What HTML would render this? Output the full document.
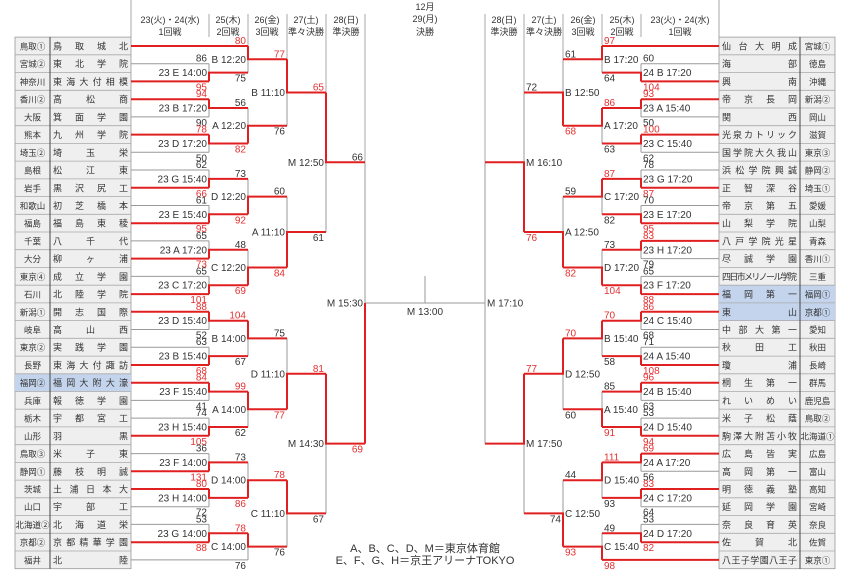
<!DOCTYPE html>
<html><head><meta charset="utf-8"><style>
html,body{margin:0;padding:0;background:#fff;}
svg{display:block;font-family:"Liberation Sans","Noto Sans CJK JP",sans-serif;}
.s{font-size:10px;fill:#333;}
.r{font-size:10px;fill:#e53030;}
.t{font-size:10px;fill:#333;}
.h{font-size:9px;fill:#333;text-anchor:middle;}
.rg{font-size:8.5px;fill:#333;text-anchor:middle;}
.sc{font-size:9px;fill:#333;}
</style></head><body>
<svg width="850" height="574" viewBox="0 0 850 574" xmlns="http://www.w3.org/2000/svg">
<rect width="850" height="574" fill="#fff"/>
<g stroke="#aaa" stroke-width="1" fill="none">
<path d="M131 0V37M719 0V37M209 14V37M248 14V46M287 14V59M326 14V92M365 14V162M641 14V37M602 14V46M563 14V59M524 14V92M485 14V162"/>
</g>
<g class="h">
<text x="170" y="23">23(火)・24(水)</text><text x="170" y="35">1回戦</text>
<text x="228" y="23">25(木)</text><text x="228" y="35">2回戦</text>
<text x="267" y="23">26(金)</text><text x="267" y="35">3回戦</text>
<text x="306" y="23">27(土)</text><text x="306" y="35">準々決勝</text>
<text x="346" y="23">28(日)</text><text x="346" y="35">準決勝</text>
<text x="425" y="10">12月</text><text x="425" y="22">29(月)</text><text x="425" y="35">決勝</text>
<text x="504" y="23">28(日)</text><text x="504" y="35">準決勝</text>
<text x="544" y="23">27(土)</text><text x="544" y="35">準々決勝</text>
<text x="583" y="23">26(金)</text><text x="583" y="35">3回戦</text>
<text x="622" y="23">25(木)</text><text x="622" y="35">2回戦</text>
<text x="680" y="23">23(火)・24(水)</text><text x="680" y="35">1回戦</text>
</g>

<g stroke="#999" stroke-width="0.8">
<rect x="15" y="37.1" width="116" height="531.6" fill="#efefef"/>
<rect x="719" y="37.1" width="116" height="531.6" fill="#efefef"/>
</g>
<rect x="15" y="373.8" width="116" height="17.72" fill="#c3d4ec"/>
<rect x="719" y="285.2" width="116" height="35.44" fill="#c3d4ec"/>
<g stroke="#aaa" stroke-width="0.8" fill="none">
<path d="M15 54.8H131M15 72.5H131M15 90.3H131M15 108.0H131M15 125.7H131M15 143.4H131M15 161.1H131M15 178.9H131M15 196.6H131M15 214.3H131M15 232.0H131M15 249.7H131M15 267.5H131M15 285.2H131M15 302.9H131M15 320.6H131M15 338.3H131M15 356.1H131M15 373.8H131M15 391.5H131M15 409.2H131M15 426.9H131M15 444.7H131M15 462.4H131M15 480.1H131M15 497.8H131M15 515.5H131M15 533.3H131M15 551.0H131"/>
<path d="M719 54.8H835M719 72.5H835M719 90.3H835M719 108.0H835M719 125.7H835M719 143.4H835M719 161.1H835M719 178.9H835M719 196.6H835M719 214.3H835M719 232.0H835M719 249.7H835M719 267.5H835M719 285.2H835M719 302.9H835M719 320.6H835M719 338.3H835M719 356.1H835M719 373.8H835M719 391.5H835M719 409.2H835M719 426.9H835M719 444.7H835M719 462.4H835M719 480.1H835M719 497.8H835M719 515.5H835M719 533.3H835M719 551.0H835"/>
</g>
<path d="M50 37.1V568.8M800 37.1V568.8" stroke="#444" stroke-width="1"/>

<g class="rg">
<text x="32.5" y="49.5">鳥取①</text><text x="32.5" y="67.2">宮城②</text><text x="32.5" y="84.9">神奈川</text><text x="32.5" y="102.7">香川②</text><text x="32.5" y="120.4">大阪</text><text x="32.5" y="138.1">熊本</text><text x="32.5" y="155.8">埼玉②</text><text x="32.5" y="173.5">島根</text><text x="32.5" y="191.3">岩手</text><text x="32.5" y="209.0">和歌山</text><text x="32.5" y="226.7">福島</text><text x="32.5" y="244.4">千葉</text><text x="32.5" y="262.1">大分</text><text x="32.5" y="279.9">東京④</text><text x="32.5" y="297.6">石川</text><text x="32.5" y="315.3">新潟①</text><text x="32.5" y="333.0">岐阜</text><text x="32.5" y="350.7">東京②</text><text x="32.5" y="368.5">長野</text><text x="32.5" y="386.2">福岡②</text><text x="32.5" y="403.9">兵庫</text><text x="32.5" y="421.6">栃木</text><text x="32.5" y="439.3">山形</text><text x="32.5" y="457.1">鳥取③</text><text x="32.5" y="474.8">静岡①</text><text x="32.5" y="492.5">茨城</text><text x="32.5" y="510.2">山口</text><text x="32.5" y="527.9">北海道②</text><text x="32.5" y="545.7">京都②</text><text x="32.5" y="563.4">福井</text>
<text x="817.5" y="49.5">宮城①</text><text x="817.5" y="67.2">徳島</text><text x="817.5" y="84.9">沖縄</text><text x="817.5" y="102.7">新潟②</text><text x="817.5" y="120.4">岡山</text><text x="817.5" y="138.1">滋賀</text><text x="817.5" y="155.8">東京③</text><text x="817.5" y="173.5">静岡②</text><text x="817.5" y="191.3">埼玉①</text><text x="817.5" y="209.0">愛媛</text><text x="817.5" y="226.7">山梨</text><text x="817.5" y="244.4">青森</text><text x="817.5" y="262.1">香川①</text><text x="817.5" y="279.9">三重</text><text x="817.5" y="297.6">福岡①</text><text x="817.5" y="315.3">京都①</text><text x="817.5" y="333.0">愛知</text><text x="817.5" y="350.7">秋田</text><text x="817.5" y="368.5">長崎</text><text x="817.5" y="386.2">群馬</text><text x="817.5" y="403.9">鹿児島</text><text x="817.5" y="421.6">鳥取②</text><text x="817.5" y="439.3">北海道①</text><text x="817.5" y="457.1">広島</text><text x="817.5" y="474.8">富山</text><text x="817.5" y="492.5">高知</text><text x="817.5" y="510.2">宮崎</text><text x="817.5" y="527.9">奈良</text><text x="817.5" y="545.7">佐賀</text><text x="817.5" y="563.4">東京①</text>
</g>
<g class="sc">
<text x="53" y="49.5" textLength="75" lengthAdjust="spacing">鳥取城北</text>
<text x="53" y="67.2" textLength="75" lengthAdjust="spacing">東北学院</text>
<text x="53" y="84.9" textLength="75" lengthAdjust="spacing">東海大付相模</text>
<text x="53" y="102.7" textLength="75" lengthAdjust="spacing">高松商</text>
<text x="53" y="120.4" textLength="75" lengthAdjust="spacing">箕面学園</text>
<text x="53" y="138.1" textLength="75" lengthAdjust="spacing">九州学院</text>
<text x="53" y="155.8" textLength="75" lengthAdjust="spacing">埼玉栄</text>
<text x="53" y="173.5" textLength="75" lengthAdjust="spacing">松江東</text>
<text x="53" y="191.3" textLength="75" lengthAdjust="spacing">黒沢尻工</text>
<text x="53" y="209.0" textLength="75" lengthAdjust="spacing">初芝橋本</text>
<text x="53" y="226.7" textLength="75" lengthAdjust="spacing">福島東稜</text>
<text x="53" y="244.4" textLength="75" lengthAdjust="spacing">八千代</text>
<text x="53" y="262.1" textLength="75" lengthAdjust="spacing">柳ヶ浦</text>
<text x="53" y="279.9" textLength="75" lengthAdjust="spacing">成立学園</text>
<text x="53" y="297.6" textLength="75" lengthAdjust="spacing">北陸学院</text>
<text x="53" y="315.3" textLength="75" lengthAdjust="spacing">開志国際</text>
<text x="53" y="333.0" textLength="75" lengthAdjust="spacing">高山西</text>
<text x="53" y="350.7" textLength="75" lengthAdjust="spacing">実践学園</text>
<text x="53" y="368.5" textLength="75" lengthAdjust="spacing">東海大付諏訪</text>
<text x="53" y="386.2" textLength="75" lengthAdjust="spacing">福岡大附大濠</text>
<text x="53" y="403.9" textLength="75" lengthAdjust="spacing">報徳学園</text>
<text x="53" y="421.6" textLength="75" lengthAdjust="spacing">宇都宮工</text>
<text x="53" y="439.3" textLength="75" lengthAdjust="spacing">羽黒</text>
<text x="53" y="457.1" textLength="75" lengthAdjust="spacing">米子東</text>
<text x="53" y="474.8" textLength="75" lengthAdjust="spacing">藤枝明誠</text>
<text x="53" y="492.5" textLength="75" lengthAdjust="spacing">土浦日本大</text>
<text x="53" y="510.2" textLength="75" lengthAdjust="spacing">宇部工</text>
<text x="53" y="527.9" textLength="75" lengthAdjust="spacing">北海道栄</text>
<text x="53" y="545.7" textLength="75" lengthAdjust="spacing">京都精華学園</text>
<text x="53" y="563.4" textLength="75" lengthAdjust="spacing">北陸</text>

<text x="722" y="49.5" textLength="75" lengthAdjust="spacing">仙台大明成</text>
<text x="722" y="67.2" textLength="75" lengthAdjust="spacing">海部</text>
<text x="722" y="84.9" textLength="75" lengthAdjust="spacing">興南</text>
<text x="722" y="102.7" textLength="75" lengthAdjust="spacing">帝京長岡</text>
<text x="722" y="120.4" textLength="75" lengthAdjust="spacing">関西</text>
<text x="722" y="138.1" textLength="75" lengthAdjust="spacing">光泉カトリック</text>
<text x="722" y="155.8" textLength="75" lengthAdjust="spacing">国学院大久我山</text>
<text x="722" y="173.5" textLength="75" lengthAdjust="spacing">浜松学院興誠</text>
<text x="722" y="191.3" textLength="75" lengthAdjust="spacing">正智深谷</text>
<text x="722" y="209.0" textLength="75" lengthAdjust="spacing">帝京第五</text>
<text x="722" y="226.7" textLength="75" lengthAdjust="spacing">山梨学院</text>
<text x="722" y="244.4" textLength="75" lengthAdjust="spacing">八戸学院光星</text>
<text x="722" y="262.1" textLength="75" lengthAdjust="spacing">尽誠学園</text>
<text x="722" y="279.9" textLength="75" lengthAdjust="spacing">四日市メリノール学院</text>
<text x="722" y="297.6" textLength="75" lengthAdjust="spacing">福岡第一</text>
<text x="722" y="315.3" textLength="75" lengthAdjust="spacing">東山</text>
<text x="722" y="333.0" textLength="75" lengthAdjust="spacing">中部大第一</text>
<text x="722" y="350.7" textLength="75" lengthAdjust="spacing">秋田工</text>
<text x="722" y="368.5" textLength="75" lengthAdjust="spacing">瓊浦</text>
<text x="722" y="386.2" textLength="75" lengthAdjust="spacing">桐生第一</text>
<text x="722" y="403.9" textLength="75" lengthAdjust="spacing">れいめい</text>
<text x="722" y="421.6" textLength="75" lengthAdjust="spacing">米子松蔭</text>
<text x="722" y="439.3" textLength="75" lengthAdjust="spacing">駒澤大附苫小牧</text>
<text x="722" y="457.1" textLength="75" lengthAdjust="spacing">広島皆実</text>
<text x="722" y="474.8" textLength="75" lengthAdjust="spacing">高岡第一</text>
<text x="722" y="492.5" textLength="75" lengthAdjust="spacing">明徳義塾</text>
<text x="722" y="510.2" textLength="75" lengthAdjust="spacing">延岡学園</text>
<text x="722" y="527.9" textLength="75" lengthAdjust="spacing">奈良育英</text>
<text x="722" y="545.7" textLength="75" lengthAdjust="spacing">佐賀北</text>
<text x="722" y="563.4" textLength="75" lengthAdjust="spacing">八王子学園八王子</text>
</g>

<g stroke="#999" stroke-width="1" fill="none">
<path d="M131 46H248M131 63.7H209M131 81.4H209M131 99.2H209M131 116.9H209M131 134.6H209M131 152.3H209M131 170.0H209M131 187.8H209M131 205.5H209M131 223.2H209M131 240.9H209M131 258.6H209M131 276.4H209M131 294.1H209M131 311.8H209M131 329.5H209M131 347.2H209M131 365.0H209M131 382.7H209M131 400.4H209M131 418.1H209M131 435.8H209M131 453.6H209M131 471.3H209M131 489.0H209M131 506.7H209M131 524.4H209M131 542.2H209M131 559.9H248"/>
<path d="M209 63.7V81.4M209 99.2V116.9M209 134.6V152.3M209 170.0V187.8M209 205.5V223.2M209 240.9V258.6M209 276.4V294.1M209 311.8V329.5M209 347.2V365.0M209 382.7V400.4M209 418.1V435.8M209 453.6V471.3M209 489.0V506.7M209 524.4V542.2"/>
<path d="M248 46V72.6M248 108.0V143.5M248 178.9V214.3M248 249.8V285.2M248 320.7V356.1M248 391.6V427.0M248 462.4V497.9M248 533.3V559.9"/>
<path d="M287 59.3V125.7M287 196.6V267.5M287 338.4V409.3M287 480.2V546.6M326 92.5V232.0M326 373.8V513.4M365 162.3V443.6M365 303H485M425 276V303"/>
<path d="M719 46H602M719 63.7H641M719 81.4H641M719 99.2H641M719 116.9H641M719 134.6H641M719 152.3H641M719 170.0H641M719 187.8H641M719 205.5H641M719 223.2H641M719 240.9H641M719 258.6H641M719 276.4H641M719 294.1H641M719 311.8H641M719 329.5H641M719 347.2H641M719 365.0H641M719 382.7H641M719 400.4H641M719 418.1H641M719 435.8H641M719 453.6H641M719 471.3H641M719 489.0H641M719 506.7H641M719 524.4H641M719 542.2H641M719 559.9H602"/>
<path d="M641 63.7V81.4M641 99.2V116.9M641 134.6V152.3M641 170.0V187.8M641 205.5V223.2M641 240.9V258.6M641 276.4V294.1M641 311.8V329.5M641 347.2V365.0M641 382.7V400.4M641 418.1V435.8M641 453.6V471.3M641 489.0V506.7M641 524.4V542.2"/>
<path d="M602 46V72.6M602 108.0V143.5M602 178.9V214.3M602 249.8V285.2M602 320.7V356.1M602 391.6V427.0M602 462.4V497.9M602 533.3V559.9"/>
<path d="M563 59.3V125.7M563 196.6V267.5M563 338.4V409.3M563 480.2V546.6M524 92.5V232.0M524 373.8V513.4M485 162.3V443.6"/>
</g>

<g stroke="#e02020" stroke-width="2" fill="none">
<path d="M131 46H248M131 81.4H209M131 99.2H209M131 134.6H209M131 187.8H209M131 223.2H209M131 258.6H209M131 294.1H209M131 311.8H209M131 365.0H209M131 382.7H209M131 435.8H209M131 471.3H209M131 489.0H209M131 542.2H209"/>
<path d="M209 81.4V72.6H248M209 99.2V108.0H248M209 134.6V143.5H248M209 187.8V178.9H248M209 223.2V214.3H248M209 258.6V249.8H248M209 294.1V285.2H248M209 311.8V320.7H248M209 365.0V356.1H248M209 382.7V391.6H248M209 435.8V427.0H248M209 471.3V462.4H248M209 489.0V497.9H248M209 542.2V533.3H248"/>
<path d="M248 46V59.3H287M248 143.5V125.7H287M248 214.3V196.6H287M248 285.2V267.5H287M248 320.7V338.4H287M248 391.6V409.3H287M248 497.9V480.2H287M248 533.3V546.6H287"/>
<path d="M287 59.3V92.5H326M287 267.5V232.0H326M287 409.3V373.8H326M287 480.2V513.4H326M326 92.5V162.3H365M326 373.8V443.6H365M365 443.6V303"/>
<path d="M719 46H602M719 559.9H602M719 81.4H641M719 99.2H641M719 134.6H641M719 187.8H641M719 223.2H641M719 240.9H641M719 294.1H641M719 311.8H641M719 365.0H641M719 382.7H641M719 435.8H641M719 453.6H641M719 489.0H641M719 542.2H641"/>
<path d="M641 81.4V72.6H602M641 99.2V108.0H602M641 134.6V143.5H602M641 187.8V178.9H602M641 223.2V214.3H602M641 240.9V249.8H602M641 294.1V285.2H602M641 311.8V320.7H602M641 365.0V356.1H602M641 382.7V391.6H602M641 435.8V427.0H602M641 453.6V462.4H602M641 489.0V497.9H602M641 542.2V533.3H602"/>
<path d="M602 46V59.3H563M602 108.0V125.7H563M602 178.9V196.6H563M602 285.2V267.5H563M602 320.7V338.4H563M602 427.0V409.3H563M602 462.4V480.2H563M602 559.9V546.6H563"/>
<path d="M563 125.7V92.5H524M563 267.5V232.0H524M563 338.4V373.8H524M563 546.6V513.4H524M524 232.0V162.3H485M524 373.8V443.6H485"/>
</g>

<g text-anchor="end">
<text class="s" x="207" y="61.7">86</text><text class="r" x="207" y="90.4">95</text><text class="t" x="207" y="76.1">23 E 14:00</text>
<text class="r" x="207" y="97.2">94</text><text class="s" x="207" y="125.9">90</text><text class="t" x="207" y="111.5">23 B 17:20</text>
<text class="r" x="207" y="132.6">78</text><text class="s" x="207" y="161.3">50</text><text class="t" x="207" y="147.0">23 D 17:20</text>
<text class="s" x="207" y="168.0">62</text><text class="r" x="207" y="196.8">66</text><text class="t" x="207" y="182.4">23 G 15:40</text>
<text class="s" x="207" y="203.5">61</text><text class="r" x="207" y="232.2">95</text><text class="t" x="207" y="217.8">23 E 15:40</text>
<text class="s" x="207" y="238.9">65</text><text class="r" x="207" y="267.6">73</text><text class="t" x="207" y="253.3">23 A 17:20</text>
<text class="s" x="207" y="274.4">65</text><text class="r" x="207" y="303.1">101</text><text class="t" x="207" y="288.7">23 C 17:20</text>
<text class="r" x="207" y="309.8">88</text><text class="s" x="207" y="338.5">52</text><text class="t" x="207" y="324.2">23 D 15:40</text>
<text class="s" x="207" y="345.2">63</text><text class="r" x="207" y="374.0">68</text><text class="t" x="207" y="359.6">23 B 15:40</text>
<text class="r" x="207" y="380.7">84</text><text class="s" x="207" y="409.4">41</text><text class="t" x="207" y="395.1">23 F 15:40</text>
<text class="s" x="207" y="416.1">74</text><text class="r" x="207" y="444.8">105</text><text class="t" x="207" y="430.5">23 H 15:40</text>
<text class="s" x="207" y="451.6">36</text><text class="r" x="207" y="480.3">131</text><text class="t" x="207" y="465.9">23 F 14:00</text>
<text class="r" x="207" y="487.0">80</text><text class="s" x="207" y="515.7">72</text><text class="t" x="207" y="501.4">23 H 14:00</text>
<text class="s" x="207" y="522.4">53</text><text class="r" x="207" y="551.2">88</text><text class="t" x="207" y="536.8">23 G 14:00</text>

<text class="r" x="246" y="44">80</text><text class="s" x="246" y="81.6">75</text><text class="t" x="246" y="62.8">B 12:20</text>
<text class="s" x="246" y="106.0">56</text><text class="r" x="246" y="152.5">82</text><text class="t" x="246" y="129.2">A 12:20</text>
<text class="s" x="246" y="176.9">73</text><text class="r" x="246" y="223.3">92</text><text class="t" x="246" y="200.1">D 12:20</text>
<text class="s" x="246" y="247.8">48</text><text class="r" x="246" y="294.2">69</text><text class="t" x="246" y="271.0">C 12:20</text>
<text class="r" x="246" y="318.7">104</text><text class="s" x="246" y="365.1">67</text><text class="t" x="246" y="341.9">B 14:00</text>
<text class="r" x="246" y="389.6">99</text><text class="s" x="246" y="436.0">62</text><text class="t" x="246" y="412.8">A 14:00</text>
<text class="s" x="246" y="460.4">73</text><text class="r" x="246" y="506.9">86</text><text class="t" x="246" y="483.7">D 14:00</text>
<text class="r" x="246" y="531.3">78</text><text class="s" x="246" y="568.9">76</text><text class="t" x="246" y="550.1">C 14:00</text>

<text class="r" x="285" y="57.3">77</text><text class="s" x="285" y="134.7">76</text><text class="t" x="285" y="96.0">B 11:10</text>
<text class="s" x="285" y="194.6">60</text><text class="r" x="285" y="276.5">84</text><text class="t" x="285" y="235.5">A 11:10</text>
<text class="s" x="285" y="336.4">75</text><text class="r" x="285" y="418.3">77</text><text class="t" x="285" y="377.3">D 11:10</text>
<text class="r" x="285" y="478.2">78</text><text class="s" x="285" y="555.6">76</text><text class="t" x="285" y="516.9">C 11:10</text>

<text class="r" x="324" y="90.5">65</text><text class="s" x="324" y="241.0">61</text><text class="t" x="324" y="165.8">M 12:50</text>
<text class="r" x="324" y="371.8">81</text><text class="s" x="324" y="522.4">67</text><text class="t" x="324" y="447.1">M 14:30</text>
<text class="s" x="363" y="160.3">66</text><text class="r" x="363" y="452.6">69</text><text class="t" x="363" y="306.5">M 15:30</text>
<text class="s" x="561" y="522.4">74</text>
</g>
<text class="t" x="425" y="315" text-anchor="middle">M 13:00</text>

<g text-anchor="start">
<text class="s" x="643" y="61.7">60</text><text class="r" x="643" y="90.4">104</text><text class="t" x="643" y="76.1">24 B 17:20</text>
<text class="r" x="643" y="97.2">93</text><text class="s" x="643" y="125.9">50</text><text class="t" x="643" y="111.5">23 A 15:40</text>
<text class="r" x="643" y="132.6">100</text><text class="s" x="643" y="161.3">62</text><text class="t" x="643" y="147.0">23 C 15:40</text>
<text class="s" x="643" y="168.0">78</text><text class="r" x="643" y="196.8">87</text><text class="t" x="643" y="182.4">23 G 17:20</text>
<text class="s" x="643" y="203.5">70</text><text class="r" x="643" y="232.2">95</text><text class="t" x="643" y="217.8">23 E 17:20</text>
<text class="r" x="643" y="238.9">83</text><text class="s" x="643" y="267.6">79</text><text class="t" x="643" y="253.3">23 H 17:20</text>
<text class="s" x="643" y="274.4">65</text><text class="r" x="643" y="303.1">88</text><text class="t" x="643" y="288.7">23 F 17:20</text>
<text class="r" x="643" y="309.8">86</text><text class="s" x="643" y="338.5">68</text><text class="t" x="643" y="324.2">24 C 15:40</text>
<text class="s" x="643" y="345.2">71</text><text class="r" x="643" y="374.0">108</text><text class="t" x="643" y="359.6">24 A 15:40</text>
<text class="r" x="643" y="380.7">96</text><text class="s" x="643" y="409.4">63</text><text class="t" x="643" y="395.1">24 B 15:40</text>
<text class="s" x="643" y="416.1">53</text><text class="r" x="643" y="444.8">94</text><text class="t" x="643" y="430.5">24 D 15:40</text>
<text class="r" x="643" y="451.6">69</text><text class="s" x="643" y="480.3">56</text><text class="t" x="643" y="465.9">24 A 17:20</text>
<text class="r" x="643" y="487.0">83</text><text class="s" x="643" y="515.7">64</text><text class="t" x="643" y="501.4">24 C 17:20</text>
<text class="s" x="643" y="522.4">53</text><text class="r" x="643" y="551.2">82</text><text class="t" x="643" y="536.8">24 D 17:20</text>

<text class="r" x="604" y="44">97</text><text class="s" x="604" y="81.6">64</text><text class="t" x="604" y="62.8">B 17:20</text>
<text class="r" x="604" y="106.0">86</text><text class="s" x="604" y="152.5">63</text><text class="t" x="604" y="129.2">A 17:20</text>
<text class="r" x="604" y="176.9">87</text><text class="s" x="604" y="223.3">82</text><text class="t" x="604" y="200.1">C 17:20</text>
<text class="s" x="604" y="247.8">73</text><text class="r" x="604" y="294.2">104</text><text class="t" x="604" y="271.0">D 17:20</text>
<text class="r" x="604" y="318.7">70</text><text class="s" x="604" y="365.1">58</text><text class="t" x="604" y="341.9">B 15:40</text>
<text class="s" x="604" y="389.6">85</text><text class="r" x="604" y="436.0">91</text><text class="t" x="604" y="412.8">A 15:40</text>
<text class="r" x="604" y="460.4">111</text><text class="s" x="604" y="506.9">93</text><text class="t" x="604" y="483.7">D 15:40</text>
<text class="s" x="604" y="531.3">49</text><text class="r" x="604" y="568.9">98</text><text class="t" x="604" y="550.1">C 15:40</text>

<text class="s" x="565" y="57.3">61</text><text class="r" x="565" y="134.7">68</text><text class="t" x="565" y="96.0">B 12:50</text>
<text class="s" x="565" y="194.6">59</text><text class="r" x="565" y="276.5">82</text><text class="t" x="565" y="235.5">A 12:50</text>
<text class="r" x="565" y="336.4">70</text><text class="s" x="565" y="418.3">60</text><text class="t" x="565" y="377.3">D 12:50</text>
<text class="s" x="565" y="478.2">44</text><text class="r" x="565" y="555.6">93</text><text class="t" x="565" y="516.9">C 12:50</text>

<text class="s" x="526" y="90.5">72</text><text class="r" x="526" y="241.0">76</text><text class="t" x="526" y="165.8">M 16:10</text>
<text class="r" x="526" y="371.8">77</text><text class="t" x="526" y="447.1">M 17:50</text>
<text class="t" x="487" y="306.5">M 17:10</text>
</g>

<g text-anchor="middle" style="font-size:11px;fill:#333">
<text x="425" y="552">A、B、C、D、M＝東京体育館</text>
<text x="425" y="564">E、F、G、H＝京王アリーナTOKYO</text>
</g>
</svg>
</body></html>
